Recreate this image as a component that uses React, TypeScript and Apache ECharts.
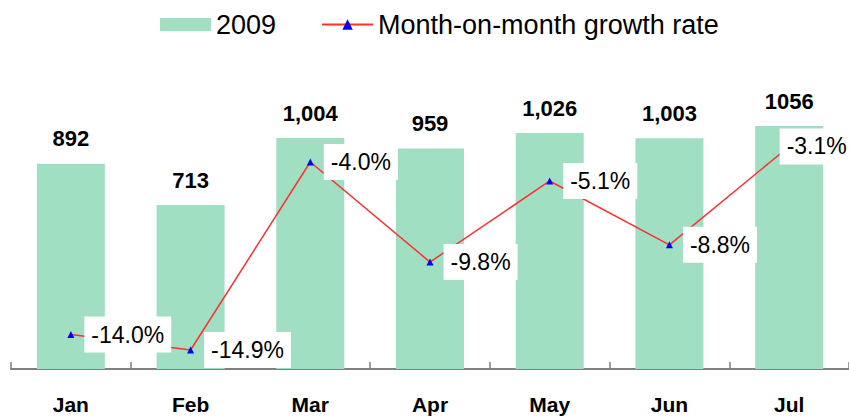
import React, { useEffect, useRef } from "react";
import * as echarts from "echarts";

const months = ["Jan", "Feb", "Mar", "Apr", "May", "Jun", "Jul"];
const sales2009 = [892, 713, 1004, 959, 1026, 1003, 1056];
const barLabels = ["892", "713", "1,004", "959", "1,026", "1,003", "1056"];
const growthRate = [-14.0, -14.9, -4.0, -9.8, -5.1, -8.8, -3.1];

const FONT = "Liberation Sans, Arial, sans-serif";

export default function App() {
  const ref = useRef<HTMLDivElement>(null);
  useEffect(() => {
    if (!ref.current) return;
    const chart = echarts.init(ref.current, null, { renderer: "svg" });
    chart.setOption({
      animation: false,
      backgroundColor: "#ffffff",
      textStyle: { fontFamily: FONT },
      legend: {
        left: 155,
        top: 6,
        itemWidth: 51,
        itemHeight: 13,
        itemGap: 45,
        textStyle: { fontSize: 27, color: "#000", fontFamily: FONT },
        data: [
          { name: "2009", icon: "rect" },
          { name: "Month-on-month growth rate" },
        ],
      },
      grid: { left: 11, right: 0, top: 58.5, bottom: 50, containLabel: false },
      xAxis: {
        type: "category",
        data: months,
        axisLine: { show: true, lineStyle: { color: "#808080", width: 2 } },
        axisTick: { show: true, inside: true, length: 7, lineStyle: { color: "#808080", width: 1.5 } },
        axisLabel: {
          color: "#000",
          fontSize: 21,
          fontWeight: "bold",
          fontFamily: FONT,
          margin: 25,
        },
      },
      yAxis: [
        { type: "value", min: 0, max: 1350, show: false, splitLine: { show: false } },
        { type: "value", min: -16, max: 2, interval: 2, show: false, splitLine: { show: false } },
      ],
      series: [
        {
          name: "2009",
          type: "bar",
          yAxisIndex: 0,
          barWidth: 68,
          itemStyle: { color: "#A0DFC2" },
          data: sales2009,
          label: {
            show: true,
            position: "top",
            distance: 14,
            color: "#000",
            fontSize: 22,
            fontWeight: "bold",
            fontFamily: FONT,
            formatter: (p: any) => barLabels[p.dataIndex],
          },
        },
        {
          name: "Month-on-month growth rate",
          type: "line",
          yAxisIndex: 1,
          symbol: "triangle",
          symbolSize: 7,
          itemStyle: { color: "#0000FF" },
          lineStyle: { color: "#FF3030", width: 1.5 },
          data: growthRate.map((v, i) =>
            i === growthRate.length - 1
              ? { value: v, label: { offset: [-23, 0] } }
              : { value: v }
          ),
          label: {
            show: true,
            position: "right",
            distance: 10,
            color: "#000",
            fontSize: 23,
            fontFamily: FONT,
            backgroundColor: "#ffffff",
            padding: [7, 7, 6, 7],
            formatter: (p: any) => p.value.toFixed(1) + "%",
          },
          z: 3,
        },
      ],
    });
    return () => chart.dispose();
  }, []);
  return (
    <div
      ref={ref}
      style={{ position: "fixed", left: 0, top: 0, width: 849, height: 419 }}
    />
  );
}
